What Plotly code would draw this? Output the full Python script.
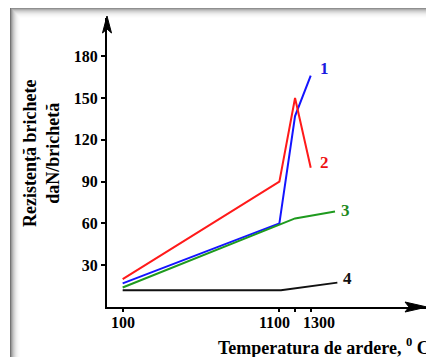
import plotly.graph_objects as go

# ---- data ----
s1_x = [100, 1100, 1200, 1300]
s1_y = [17, 60, 137, 166]
s2_x = [100, 1100, 1200, 1300]
s2_y = [20, 90, 150, 100]
s3_x = [100, 1100, 1200, 1455]
s3_y = [14, 59.5, 63.6, 68.5]
s4_x = [100, 1110, 1470]
s4_y = [12, 12, 17.5]

series_names = ["1", "2", "3", "4"]
x_tick_vals = [100, 1100, 1200, 1300]
x_tick_labels = ["100", "1100", "", "1300"]
y_tick_vals = [30, 60, 90, 120, 150, 180]

# page has an 8px body margin: design in screen pixels, convert to figure pixels
OFF = 8
W, H = 434 - OFF, 357 - OFF
L, T = 107 - OFF, 18 - OFF
R = W - (427 - OFF)
B = H - (307 - OFF)
PW, PH = W - L - R, H - T - B
XMAX = 2042
YMAX = PH / 1.3933

def px(xs):
    return (xs - OFF - L) / PW

def py(ys):
    return (H - B - (ys - OFF)) / PH

FONT = "Liberation Serif"

fig = go.Figure()
colors = ["#1414ff", "#ff1a1a", "#1e9a1e", "#111111"]
for xs, ys, c, n in zip([s1_x, s2_x, s3_x, s4_x], [s1_y, s2_y, s3_y, s4_y], colors, series_names):
    fig.add_trace(go.Scatter(x=xs, y=ys, mode="lines", name=n,
                             line=dict(color=c, width=2), showlegend=False))

annotations = []
# series labels
label_pos = [(1391, 171.5), (1391, 104), (1519, 69.6), (1532, 20.8)]
label_cols = ["#1a1ae0", "#ee1111", "#1e8a1e", "#111111"]
for n, (lx, ly), c in zip(series_names, label_pos, label_cols):
    annotations.append(dict(x=lx, y=ly, xref="x", yref="y", text="<b>%s</b>" % n,
                            showarrow=False, font=dict(family=FONT, size=17, color=c)))

# x tick labels (shifted apart as in original)
shifts = {"100": 0, "1100": -5, "1300": 8}
for v, t in zip(x_tick_vals, x_tick_labels):
    if t:
        annotations.append(dict(x=v, y=py(322), xref="x", yref="paper", text="<b>%s</b>" % t,
                                xshift=shifts[t], showarrow=False, yanchor="middle",
                                font=dict(family=FONT, size=16, color="black")))

# axis titles
annotations.append(dict(x=px(216), y=py(346), xref="paper", yref="paper", xanchor="left",
                        yanchor="middle", showarrow=False,
                        text="<b>Temperatura de ardere, <sup>0</sup> C</b>",
                        font=dict(family=FONT, size=18, color="black")))
annotations.append(dict(x=px(41), y=py(154), xref="paper", yref="paper", textangle=-90,
                        showarrow=False, xanchor="center", yanchor="middle",
                        text="<b>Rezistență brichete<br>daN/brichetă</b>",
                        font=dict(family=FONT, size=18, color="black")))

shapes = []
# frame shadow
for i, a in enumerate([0.55, 0.4, 0.3, 0.22, 0.16, 0.11, 0.07, 0.045, 0.025, 0.012]):
    shapes.append(dict(type="rect", xref="paper", yref="paper",
                       x0=px(10 + i), x1=px(11 + i), y0=py(357), y1=py(8 + i),
                       line=dict(width=0), fillcolor="rgba(0,0,0,%g)" % a, layer="below"))
    shapes.append(dict(type="rect", xref="paper", yref="paper",
                       x0=px(11 + i), x1=px(434), y0=py(8 + i), y1=py(9 + i),
                       line=dict(width=0), fillcolor="rgba(0,0,0,%g)" % (a * 0.8), layer="below"))

# axis arrows
def path(pts):
    return "M " + " L ".join("%f,%f" % (px(a), py(b)) for a, b in pts) + " Z"

shapes.append(dict(type="path", xref="paper", yref="paper",
                   path=path([(427, 307), (405, 302), (409, 307), (405, 312)]),
                   fillcolor="black", line=dict(color="black", width=1)))
shapes.append(dict(type="path", xref="paper", yref="paper",
                   path=path([(107, 16), (102.5, 33), (107, 29), (111.5, 33)]),
                   fillcolor="black", line=dict(color="black", width=1)))

fig.update_layout(
    width=W, height=H,
    margin=dict(l=L, r=R, t=T, b=B, pad=0),
    paper_bgcolor="white", plot_bgcolor="rgba(0,0,0,0)",
    xaxis=dict(range=[0, XMAX], showgrid=False, zeroline=False, showline=True,
               linecolor="black", linewidth=2, tickvals=x_tick_vals, showticklabels=False,
               ticks="outside", ticklen=3, tickwidth=1.5, tickcolor="black"),
    yaxis=dict(range=[0, YMAX], showgrid=False, zeroline=False, showline=True,
               linecolor="black", linewidth=2, tickvals=y_tick_vals,
               ticks="outside", ticklen=4, tickwidth=1.5, tickcolor="black",
               tickfont=dict(family=FONT, size=16, color="black", weight="bold")),
    annotations=annotations, shapes=shapes,
)

fig.write_html("out.html")
